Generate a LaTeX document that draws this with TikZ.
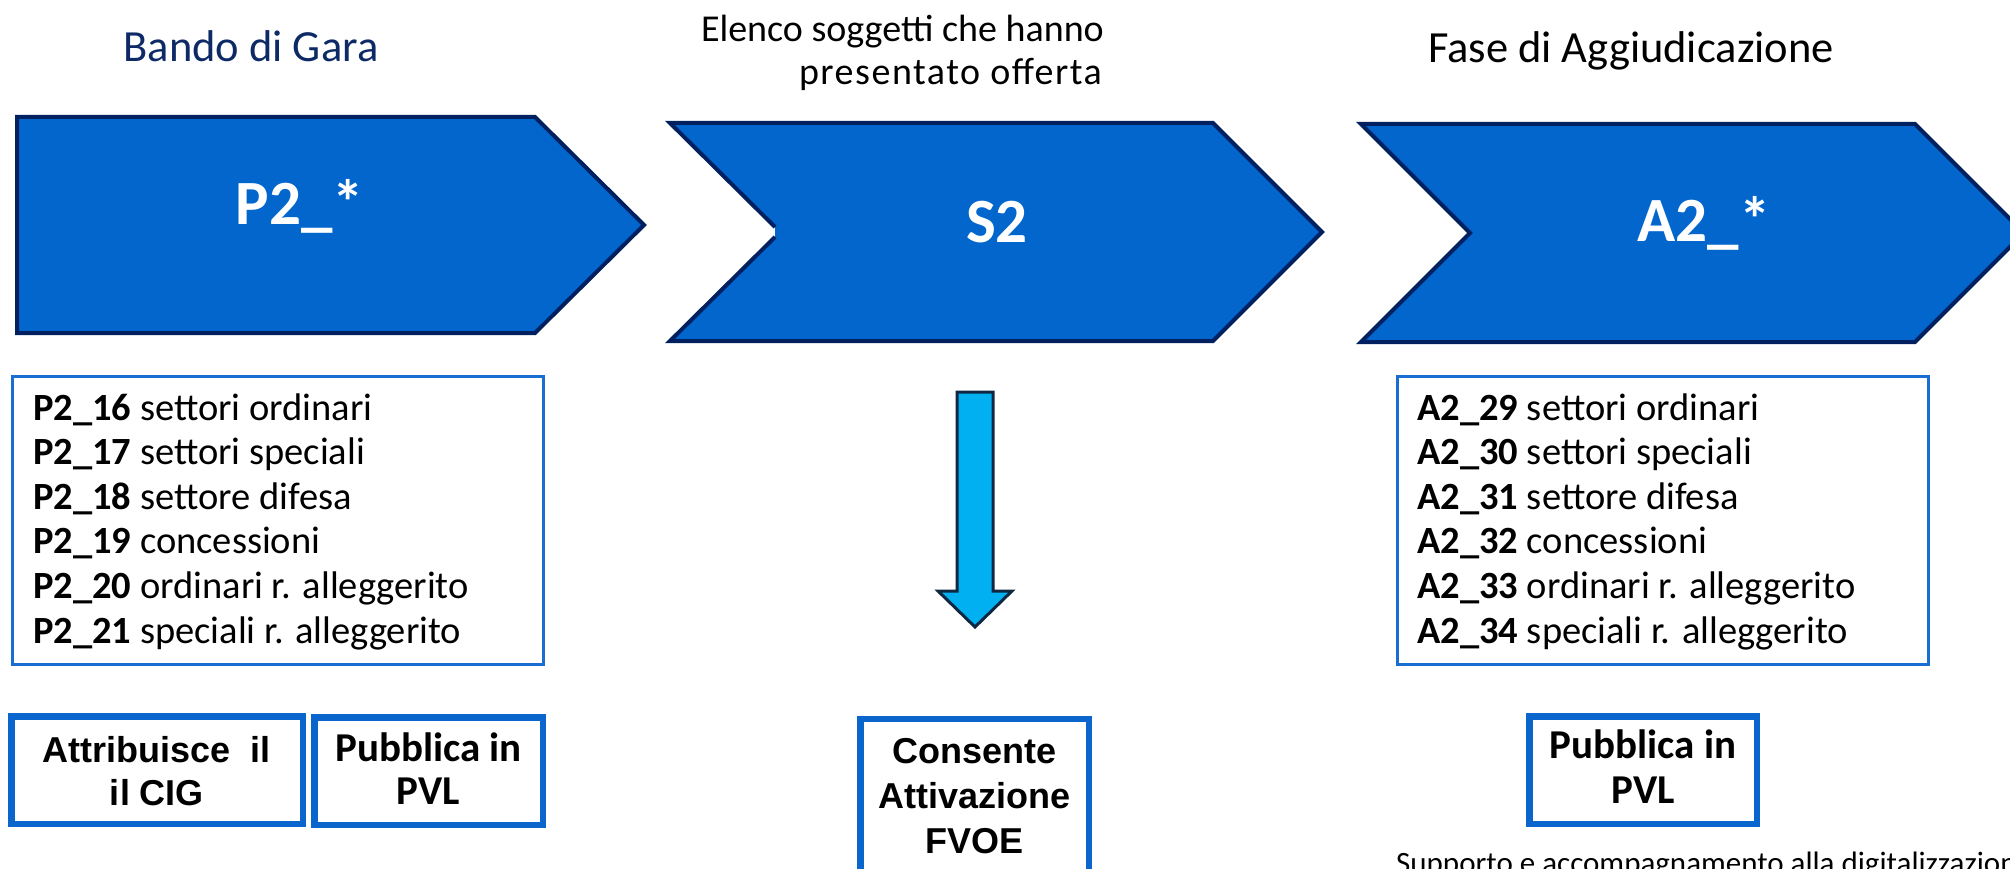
\documentclass[tikz,border=0pt]{standalone}
\usepackage{fontspec}
\setmainfont{Carlito}
\newfontfamily\libsans{Liberation Sans}
\definecolor{chevfill}{HTML}{0366CC}
\definecolor{chevline}{HTML}{002060}
\definecolor{boxblue}{HTML}{1A6ED2}
\definecolor{tagblue}{HTML}{0A66CC}
\definecolor{navy}{HTML}{0E2A66}
\definecolor{arrfill}{HTML}{00B0F0}
\definecolor{arrline}{HTML}{0E2841}
\begin{document}
\begin{tikzpicture}[x=1pt,y=-1pt,
  chev/.style={fill=chevfill, draw=chevline, line width=4pt, line join=miter},
  listbox/.style={draw=boxblue, line width=3pt, inner sep=0pt, fill=none},
  tagbox/.style={draw=tagblue, line width=6.5pt, inner sep=0pt},
  ttl/.style={anchor=base, inner sep=0pt, font=\fontsize{44.5}{52}\selectfont},
  ttlb/.style={anchor=base east, inner sep=0pt, font=\fontsize{38}{44}\selectfont},
  chevtxt/.style={anchor=base, inner sep=0pt, text=white, font=\fontsize{63}{70}\selectfont\bfseries},
  listtxt/.style={anchor=base west, inner sep=0pt, font=\fontsize{38.5}{44}\selectfont},
  tagtxtA/.style={anchor=base, inner sep=0pt, font=\libsans\bfseries\fontsize{36}{42}\selectfont},
  tagtxtB/.style={anchor=base, inner sep=0pt, font=\bfseries\fontsize{41}{46}\selectfont},
  bigarrow/.style={fill=arrfill, draw=arrline, line width=3pt, line join=miter}
]
\useasboundingbox (0,0) rectangle (2010,869);
\clip (0,0) rectangle (2010,869);

% titles
\node[ttl, text=navy] (t1) at (251,62) {Bando di Gara};
\node[ttlb] (t2a) at (1104,42) {Elenco soggetti che hanno};
\node[ttlb] (t2b) at (1102,85) {\addfontfeature{LetterSpace=4}presentato offerta};
\node[ttl] (t3) at (1631,63) {Fase di Aggiudicazione};

% chevrons
\path[chev] (17,117) -- (535,117) -- (644,225) -- (535,333) -- (17,333) -- cycle;
\fill[chevfill] (670,123) -- (1213,123) -- (1322,232) -- (1213,341) -- (670,341) -- (775,237) -- (775,227) -- cycle;
\draw[chevline, line width=4pt, line join=miter] (775,227) -- (670,123) -- (1213,123) -- (1322,232) -- (1213,341) -- (670,341) -- (775,237);
\path[chev] (1361,124) -- (1915,124) -- (2024,233) -- (1915,342) -- (1361,342) -- (1470,233) -- cycle;

\node[chevtxt] (c1) at (300,225) {P2\_*};
\node[chevtxt] (c2) at (997,242) {S2};
\node[chevtxt] (c3) at (1704,241) {A2\_*};

% list boxes
\node[listbox, minimum width=531pt, minimum height=288pt] (p2list) at (278,520.5) {};
\node[listbox, minimum width=531pt, minimum height=288pt] (a2list) at (1663,520.5) {};

\node[listtxt] (p16) at (33,420) {\textbf{P2\_16} settori ordinari};
\node[listtxt] (p17) at (33,464.6) {\textbf{P2\_17} settori speciali};
\node[listtxt] (p18) at (33,509.2) {\textbf{P2\_18} settore difesa};
\node[listtxt] (p19) at (33,553.8) {\textbf{P2\_19} concessioni};
\node[listtxt] (p20) at (33,598.4) {\textbf{P2\_20} ordinari r. alleggerito};
\node[listtxt] (p21) at (33,643) {\textbf{P2\_21} speciali r. alleggerito};

\node[listtxt] (a29) at (1417,420) {\textbf{A2\_29} settori ordinari};
\node[listtxt] (a30) at (1417,464.6) {\textbf{A2\_30} settori speciali};
\node[listtxt] (a31) at (1417,509.2) {\textbf{A2\_31} settore difesa};
\node[listtxt] (a32) at (1417,553.8) {\textbf{A2\_32} concessioni};
\node[listtxt] (a33) at (1417,598.4) {\textbf{A2\_33} ordinari r. alleggerito};
\node[listtxt] (a34) at (1417,643) {\textbf{A2\_34} speciali r. alleggerito};

% down arrow
\path[bigarrow] (957,392) -- (993,392) -- (993,591) -- (1012,591) -- (975,627) -- (938,591) -- (957,591) -- cycle;

% tag boxes
\node[tagbox, minimum width=291.5pt, minimum height=107.5pt] (cig) at (157,770) {};
\node[tagtxtA] (cig1) at (157,762) {Attribuisce\ \ il};
\node[tagtxtA] (cig2) at (157,805) {il CIG};

\node[tagbox, minimum width=228.5pt, minimum height=107.5pt] (pvl1) at (428.5,771) {};
\node[tagtxtB] (pvl1a) at (428.5,761) {Pubblica in};
\node[tagtxtB] (pvl1b) at (428.5,804) {PVL};

\node[tagbox, minimum width=228.5pt, minimum height=180pt] (fvoe) at (974.5,809) {};
\node[tagtxtA] (fvoe1) at (974.5,763) {Consente};
\node[tagtxtA] (fvoe2) at (974.5,808) {Attivazione};
\node[tagtxtA] (fvoe3) at (974.5,853) {FVOE};

\node[tagbox, minimum width=227.5pt, minimum height=107.5pt] (pvl2) at (1643,770) {};
\node[tagtxtB] (pvl2a) at (1643,758) {Pubblica in};
\node[tagtxtB] (pvl2b) at (1643,803) {PVL};

% bottom note (cut off, as in the reference)
\node[anchor=base west, inner sep=0pt, font=\fontsize{31}{36}\selectfont] (note) at (1396,873) {Supporto e accompagnamento alla digitalizzazione};
\end{tikzpicture}
\end{document}
